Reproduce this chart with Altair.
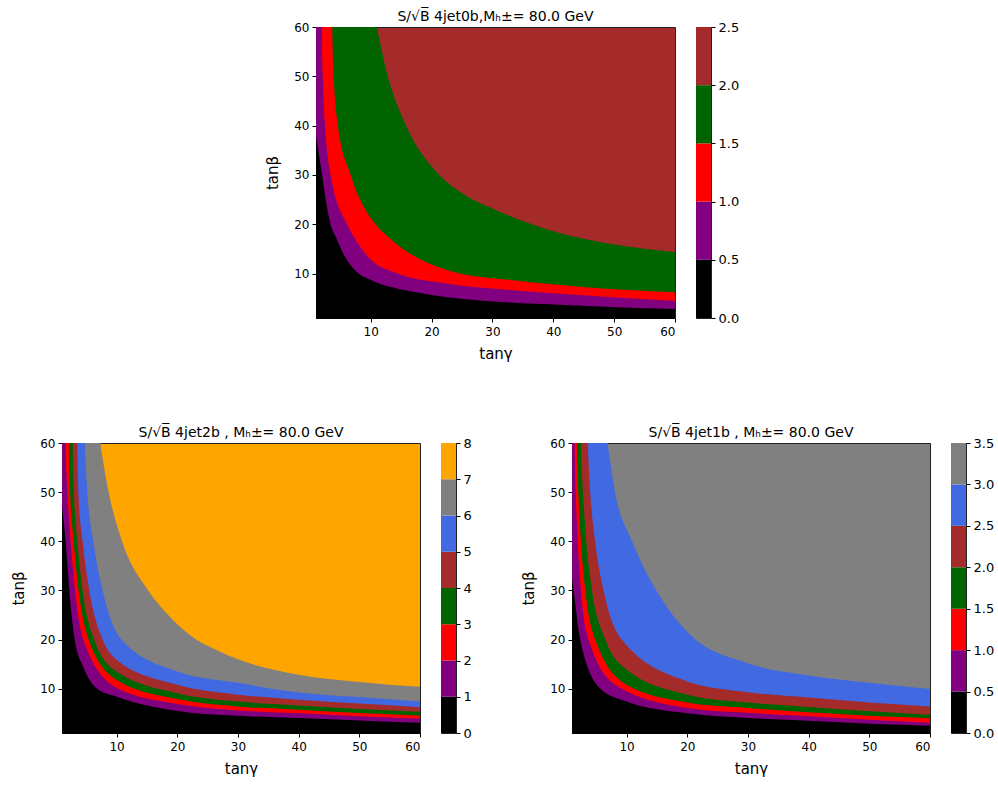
import altair as alt
import pandas as pd

# ---------------- axis ranges ----------------
X_DOMAIN = [1, 60]
Y_DOMAIN = [1, 60]
AXIS_TICKS = [10, 20, 30, 40, 50, 60]

# ---------------- Panel A : 4jet0b ----------------
a_title = "S/√B̅ 4jet0b,Mₕ±= 80.0 GeV"
a_levels = [0.0, 0.5, 1.0, 1.5, 2.0, 2.5]
a_colors = ["black", "purple", "red", "darkgreen", "brown"]
a_b1_x = [1, 1.5, 2.0, 2.6, 3.4, 4.3, 5.5, 8.0, 10.0, 17.4, 28.4, 39.3, 50.3, 60]
a_b1_y = [38, 34, 30, 25, 20, 17.3, 14, 10, 8.7, 6.2, 4.5, 3.8, 3.2, 2.8]
a_b2_x = [1.9, 2.1, 2.5, 3.4, 6.1, 7.3, 10, 14, 22.9, 33.8, 44.8, 60]
a_b2_y = [60, 50, 40, 30, 20, 17.3, 12.8, 10.2, 7.9, 6.6, 5.6, 4.45]
a_b3_x = [3.6, 3.9, 4.6, 6.7, 10.8, 13.0, 22.9, 33.8, 44.8, 60]
a_b3_y = [60, 50, 40, 30, 20, 17.3, 10.6, 8.6, 7.3, 6.2]
a_b4_x = [11.0, 12.8, 15.8, 20.5, 25, 30, 40, 50, 60]
a_b4_y = [60, 50, 40, 31, 26.3, 23.2, 18.6, 15.9, 14.4]

# ---------------- Panel B : 4jet2b ----------------
b_title = "S/√B̅ 4jet2b , Mₕ±= 80.0 GeV"
b_levels = [0, 1, 2, 3, 4, 5, 6, 7, 8]
b_colors = ["black", "purple", "red", "darkgreen", "brown", "royalblue", "gray", "orange"]
b_b1_x = [1, 1.6, 2.2, 3.1, 4.5, 6.8, 10, 20, 30, 40, 50, 60]
b_b1_y = [47, 40, 30, 20, 14.5, 10, 8.4, 5.5, 4.5, 4.05, 3.56, 3.1]
b_b2_x = [1.5, 1.88, 2.43, 3.14, 4.5, 10, 20, 30, 40, 50, 60]
b_b2_y = [60, 50, 40, 30, 20, 10.2, 6.9, 5.6, 5.0, 4.4, 3.9]
b_b3_x = [2.05, 2.32, 2.92, 3.74, 5.4, 10, 20, 30, 40, 50, 60]
b_b3_y = [60, 50, 40, 30, 20, 11.8, 7.9, 6.4, 5.74, 5.07, 4.55]
b_b4_x = [2.68, 2.95, 3.53, 4.4, 6.3, 10, 20, 30, 40, 50, 60]
b_b4_y = [60, 50, 40, 30, 20, 13.5, 9.1, 7.4, 6.6, 5.9, 5.3]
b_b5_x = [3.44, 3.69, 4.4, 5.5, 7.7, 10, 20, 30, 40, 50, 60]
b_b5_y = [60, 50, 40, 30, 20, 15.9, 10.8, 8.8, 7.77, 7.0, 6.25]
b_b6_x = [4.73, 5.17, 6.16, 7.7, 10.8, 20, 30, 40, 50, 60]
b_b6_y = [60, 50, 40, 30, 20, 13.5, 11.2, 9.26, 8.3, 7.4]
b_b7_x = [7.28, 8.7, 10.9, 15.2, 18.5, 22, 27, 30, 40, 50, 60]
b_b7_y = [60, 50, 40, 30, 25, 21, 17.6, 16, 12.85, 11.4, 10.4]

# ---------------- Panel C : 4jet1b ----------------
c_title = "S/√B̅ 4jet1b , Mₕ±= 80.0 GeV"
c_levels = [0.0, 0.5, 1.0, 1.5, 2.0, 2.5, 3.0, 3.5]
c_colors = ["black", "purple", "red", "darkgreen", "brown", "royalblue", "gray"]
c_b1_x = [1, 1.27, 2.36, 5.66, 10, 20, 30, 40, 50, 60]
c_b1_y = [32.5, 30, 20, 10, 7.4, 5.0, 4.05, 3.5, 2.9, 2.5]
c_b2_x = [1.35, 1.6, 1.93, 2.47, 3.73, 8.5, 20, 30, 40, 50, 60]
c_b2_y = [60, 50, 40, 30, 20, 10.5, 6.1, 5.1, 4.4, 3.7, 3.1]
c_b3_x = [1.75, 2.04, 2.47, 3.2, 4.84, 10, 20, 30, 40, 50, 60]
c_b3_y = [60, 50, 40, 30, 20, 10.8, 7.2, 6.1, 5.2, 4.5, 4.0]
c_b4_x = [2.4, 2.8, 3.35, 4.3, 6.5, 10, 20, 30, 40, 50, 60]
c_b4_y = [60, 50, 40, 30, 20, 13.9, 8.8, 7.2, 6.3, 5.4, 4.7]
c_b5_x = [3.57, 4.0, 4.8, 6.2, 9.2, 20, 30, 40, 50, 60]
c_b5_y = [60, 50, 40, 30, 20, 11.5, 9.3, 8.2, 7.2, 6.4]
c_b6_x = [6.86, 8.1, 10.9, 14.9, 20.5, 30, 40, 50, 60]
c_b6_y = [60, 50, 40, 30, 21, 15.2, 12.7, 11.2, 9.95]

FONT = "DejaVu Sans"


def x_enc():
    return alt.X("x:Q", scale=alt.Scale(domain=X_DOMAIN, nice=False, zero=False),
                 axis=alt.Axis(values=AXIS_TICKS, title="tanγ", titlePadding=9, labelPadding=4))


def y_enc():
    return alt.Y("y:Q", scale=alt.Scale(domain=Y_DOMAIN, nice=False, zero=False),
                 axis=alt.Axis(values=AXIS_TICKS, title="tanβ", titlePadding=13))


def contour_panel(title, bounds, colors, w, h):
    layers = []
    for i in reversed(range(len(bounds))):
        bx, by = bounds[i]
        c = colors[i]
        if by[0] >= Y_DOMAIN[1]:
            top = pd.DataFrame({"x": [X_DOMAIN[0]], "x2": [bx[0]],
                                "y": [Y_DOMAIN[0]], "y2": [Y_DOMAIN[1]]})
            layers.append(
                alt.Chart(top).mark_rect(color=c, stroke=c, strokeWidth=1, clip=True)
                .encode(x=x_enc(), x2="x2:Q", y=y_enc(), y2="y2:Q"))
        df = pd.DataFrame({"x": bx, "y": by, "base": [Y_DOMAIN[0]] * len(bx)})
        layers.append(
            alt.Chart(df).mark_area(color=c, interpolate="monotone", clip=True)
            .encode(x=x_enc(), y=y_enc(), y2="base:Q"))
    return alt.layer(*layers).properties(
        width=w, height=h,
        title=alt.TitleParams(title, anchor="middle"),
        view=alt.ViewBackground(fill=colors[-1], stroke="#222222"),
    )


def colorbar(levels, colors, fmt, h):
    df = pd.DataFrame({"lo": levels[:-1], "hi": levels[1:], "col": colors})
    return alt.Chart(df).mark_rect().encode(
        y=alt.Y("lo:Q", scale=alt.Scale(domain=[levels[0], levels[-1]], nice=False, zero=False),
                axis=alt.Axis(orient="right", values=levels, format=fmt, title=None,
                              domain=False, labelFontSize=13, tickSize=4, labelPadding=3)),
        y2="hi:Q",
        color=alt.Color("col:N", scale=None, legend=None),
    ).properties(width=15, height=h, view=alt.ViewBackground(stroke="#222222"))


def spacer(w, h):
    return alt.Chart(pd.DataFrame({"s": [0]})).mark_point(opacity=0, size=0).encode(
        x=alt.X("s:Q", axis=None, scale=alt.Scale(domain=[-1, 1])),
        y=alt.Y("s:Q", axis=None, scale=alt.Scale(domain=[-1, 1])),
    ).properties(width=w, height=h, view=alt.ViewBackground(stroke="transparent"))


H1, H2 = 291, 290
pA = contour_panel(a_title, [(a_b1_x, a_b1_y), (a_b2_x, a_b2_y), (a_b3_x, a_b3_y), (a_b4_x, a_b4_y)],
                   a_colors, 359, H1)
pB = contour_panel(b_title, [(b_b1_x, b_b1_y), (b_b2_x, b_b2_y), (b_b3_x, b_b3_y), (b_b4_x, b_b4_y),
                             (b_b5_x, b_b5_y), (b_b6_x, b_b6_y), (b_b7_x, b_b7_y)],
                   b_colors, 358, H2)
pC = contour_panel(c_title, [(c_b1_x, c_b1_y), (c_b2_x, c_b2_y), (c_b3_x, c_b3_y), (c_b4_x, c_b4_y),
                             (c_b5_x, c_b5_y), (c_b6_x, c_b6_y)],
                   c_colors, 358, H2)
cbA = colorbar(a_levels, a_colors, ".1f", H1)
cbB = colorbar(b_levels, b_colors, "d", H2)
cbC = colorbar(c_levels, c_colors, ".1f", H2)

top_row = alt.hconcat(spacer(294, H1), pA, cbA, spacing=21, bounds="flush")
bottom_row = alt.hconcat(spacer(40, H2), pB, cbB, spacer(74, H2), pC, cbC,
                         spacing=21, bounds="flush")

chart = alt.vconcat(top_row, bottom_row, spacing=63).properties(
    padding={"left": 0, "top": 9, "right": 0, "bottom": 0},
).configure(font=FONT).configure_axis(
    labelFont=FONT, titleFont=FONT, labelFontSize=12, titleFontSize=15,
    titleFontWeight="normal", labelColor="black", titleColor="black",
    tickColor="black", domainColor="black", tickSize=4, labelPadding=3,
    grid=False,
).configure_title(font=FONT, fontSize=14, fontWeight="normal", offset=-3, color="black")

chart.save("out.html", embed_options={"renderer": "svg", "actions": False})
